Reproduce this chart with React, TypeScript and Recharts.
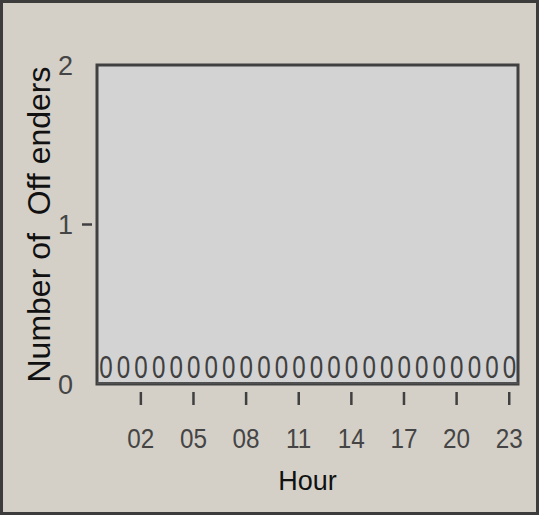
import React from 'react';
import { BarChart, Bar, XAxis, YAxis, ReferenceArea, LabelList, Label } from 'recharts';

const hours = ['00', '01', '02', '03', '04', '05', '06', '07', '08', '09', '10', '11', '12', '13', '14', '15', '16', '17', '18', '19', '20', '21', '22', '23'];
const offenders = [0, 0, 0, 0, 0, 0, 0, 0, 0, 0, 0, 0, 0, 0, 0, 0, 0, 0, 0, 0, 0, 0, 0, 0];
const xTickHours = ['02', '05', '08', '11', '14', '17', '20', '23'];
const yTicks = [0, 1, 2];
const yTickMarks = [1];

const data = hours.map((h, i) => ({ hour: h, count: offenders[i] }));

const SANS = "'Liberation Sans', Arial, sans-serif";
const AXIS = '#404040';

const XTick = (props: any) => {
  const { x, y, payload } = props;
  if (!xTickHours.includes(payload.value)) return null;
  return (
    <g>
      <line x1={x} x2={x} y1={y + 8} y2={y + 21} stroke={AXIS} strokeWidth={2.5} />
      <text
        transform={`translate(${x},${y + 64}) scale(0.9,1)`}
        textAnchor="middle"
        fill="#454545"
        fontSize={27}
        fontFamily={SANS}
      >
        {payload.value}
      </text>
    </g>
  );
};

const YTick = (props: any) => {
  const { x, y, payload } = props;
  return (
    <g>
      {yTickMarks.includes(payload.value) && (
        <line x1={x - 15} x2={x - 5} y1={y} y2={y} stroke={AXIS} strokeWidth={2.5} />
      )}
      <text x={x - 24} y={y} dy="0.36em" textAnchor="end" fill="#454545" fontSize={27} fontFamily={SANS}>
        {payload.value}
      </text>
    </g>
  );
};

const YTitle = (props: any) => {
  const vb = props.viewBox;
  const cx = vb.x + vb.width / 2 - 12;
  const cy = vb.y + vb.height / 2;
  return (
    <text
      x={cx}
      y={cy}
      dy="0.36em"
      textAnchor="middle"
      transform={`rotate(-90, ${cx}, ${cy})`}
      fill="#111"
      fontSize={32}
      fontFamily={SANS}
      style={{ whiteSpace: 'pre' }}
    >
      Number of  Off enders
    </text>
  );
};

const ZeroLabel = (props: any) => {
  const { x, y, width, value } = props;
  const cx = x + width / 2;
  return (
    <text
      transform={`translate(${cx},${y - 4}) scale(0.78,1)`}
      textAnchor="middle"
      fill="#404040"
      fontSize={31}
      fontFamily={SANS}
    >
      {value}
    </text>
  );
};

export default function App() {
  return (
    <div
      style={{
        position: 'absolute',
        left: 0,
        top: 0,
        width: 539,
        height: 515,
        boxSizing: 'border-box',
        border: '3px solid #3c3c3c',
        background: '#d4d0c8',
      }}
    >
      <BarChart
        width={533}
        height={509}
        data={data}
        barCategoryGap={0}
        margin={{ top: 62, right: 18, left: 0, bottom: 18 }}
      >
        <XAxis
          dataKey="hour"
          interval={0}
          height={110}
          tickSize={0}
          tickMargin={0}
          tickLine={false}
          tick={<XTick />}
          axisLine={false}
        >
          <Label value="Hour" position="insideBottom" offset={4} fill="#111" fontSize={27} fontFamily={SANS} />
        </XAxis>
        <YAxis
          domain={[0, 2]}
          ticks={yTicks}
          width={94}
          tickSize={0}
          tickMargin={0}
          tickLine={false}
          tick={<YTick />}
          axisLine={false}
        >
          <Label position="center" content={<YTitle />} />
        </YAxis>
        <ReferenceArea
          x1={hours[0]}
          x2={hours[hours.length - 1]}
          y1={0}
          y2={2}
          fill="#d3d3d3"
          fillOpacity={1}
          stroke={AXIS}
          strokeWidth={3}
        />
        <Bar dataKey="count" fill="#505050" minPointSize={2} isAnimationActive={false}>
          <LabelList dataKey="count" content={<ZeroLabel />} />
        </Bar>
      </BarChart>
    </div>
  );
}
